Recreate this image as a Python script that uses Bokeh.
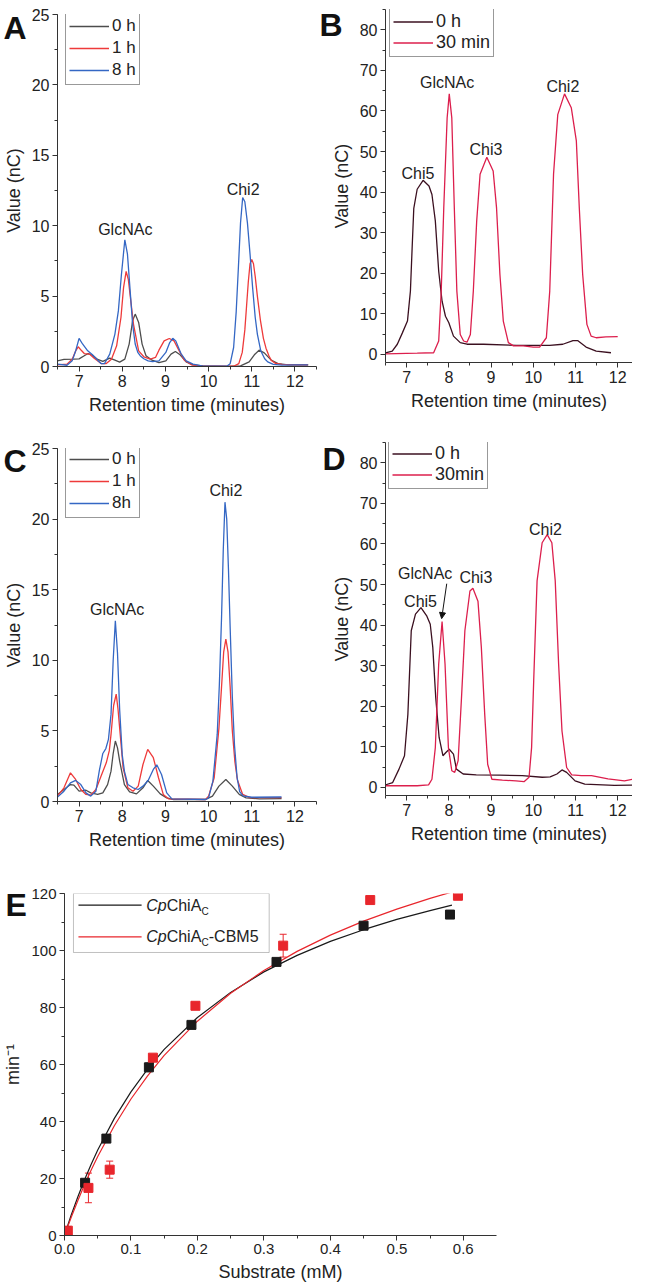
from bokeh.plotting import figure
from bokeh.layouts import column, row
from bokeh.models import (Range1d, SingleIntervalTicker, Legend, LegendItem, Label, Arrow,
                          NormalHead, Whisker, ColumnDataSource, TeeHead, BoxAnnotation,
                          NumeralTickFormatter)
from bokeh.core.properties import value
from bokeh.embed import file_html
from bokeh.resources import INLINE

FONT = "Liberation Sans"

# ---------------- Panel A data ----------------
a_t_0h = [6.5, 6.65, 6.88, 7.0, 7.12, 7.21, 7.31, 7.43, 7.55, 7.71, 7.83, 7.94, 8.06, 8.16, 8.24, 8.3, 8.38,
          8.46, 8.55, 8.69, 8.85, 9.01, 9.13, 9.23, 9.34, 9.48, 9.64, 9.87, 10.43, 10.74, 10.94, 11.06, 11.17,
          11.29, 11.45, 11.61, 11.84, 12.31]
a_v_0h = [0.40, 0.50, 0.52, 0.54, 0.76, 0.92, 0.80, 0.50, 0.36, 0.60, 0.45, 0.31, 0.52, 1.59, 3.25, 3.72, 3.13,
          1.59, 0.76, 0.45, 0.28, 0.40, 0.88, 1.07, 0.83, 0.33, 0.12, 0.05, 0.0, 0.05, 0.33, 0.83, 1.16,
          0.97, 0.45, 0.21, 0.12, 0.12]
a_t_1h = [6.5, 6.72, 6.84, 6.92, 6.98, 7.05, 7.12, 7.24, 7.35, 7.51, 7.63, 7.75, 7.87, 7.97, 8.03, 8.09, 8.14,
          8.18, 8.26, 8.38, 8.5, 8.65, 8.77, 8.85, 8.97, 9.09, 9.2, 9.32, 9.44, 9.6, 9.87, 10.58, 10.7, 10.78,
          10.84, 10.88, 10.92, 10.96, 11.0, 11.04, 11.08, 11.13, 11.2, 11.27, 11.33, 11.4, 11.45, 11.55, 11.7,
          12.0, 12.3]
a_v_1h = [0.12, 0.17, 0.52, 1.1, 1.4, 1.15, 0.92, 0.88, 0.59, 0.21, 0.21, 0.52, 1.47, 3.48, 5.6, 6.75, 6.2,
          5.14, 3.01, 1.11, 0.69, 0.52, 0.64, 1.16, 1.82, 1.99, 1.82, 1.11, 0.45, 0.12, 0.02, 0.02, 0.2, 1.0,
          2.6, 4.3, 6.0, 7.3, 7.6, 7.3, 6.4, 5.0, 3.3, 2.0, 1.3, 0.75, 0.45, 0.22, 0.15,
          0.12, 0.12]
a_t_8h = [6.5, 6.72, 6.84, 6.92, 7.0, 7.08, 7.2, 7.31, 7.43, 7.51, 7.59, 7.71, 7.83, 7.91, 7.98, 8.06, 8.12,
          8.18, 8.24, 8.3, 8.36, 8.42, 8.5, 8.6, 8.7, 8.85, 9.01, 9.1, 9.17, 9.24, 9.36, 9.48, 9.64, 9.87,
          10.43, 10.5, 10.58, 10.64, 10.69, 10.74, 10.79, 10.84, 10.9, 10.96, 11.02, 11.08, 11.13, 11.21, 11.3,
          11.37, 11.5, 11.7, 12.0, 12.3]
a_v_8h = [0.17, 0.09, 0.4, 1.1, 2.0, 1.6, 1.11, 0.83, 0.45, 0.21, 0.21, 0.88, 2.3, 3.95, 6.5, 9.0, 8.0,
          5.5, 3.0, 1.6, 1.0, 0.75, 0.55, 0.4, 0.35, 0.4, 1.0, 1.7, 2.0, 1.82, 0.92, 0.4, 0.17, 0.02,
          0.03, 0.2, 1.35, 3.9, 7.0, 10.2, 12.0, 11.7, 10.2, 8.0, 5.6, 3.5, 2.3, 1.1, 0.55,
          0.33, 0.15, 0.1, 0.12, 0.12]
a_peak_text = ["GlcNAc", "Chi2"]
a_peak_x = [8.07, 10.8]
a_peak_y = [9.75, 12.6]

# ---------------- Panel B data ----------------
b_t_0h = [6.5, 6.66, 6.78, 6.9, 7.02, 7.09, 7.13, 7.17, 7.25, 7.39, 7.53, 7.6, 7.68, 7.76, 7.84, 7.92, 8.0,
          8.11, 8.27, 8.43, 8.82, 9.6, 10.39, 10.7, 10.94, 11.05, 11.25, 11.49, 11.84]
b_v_0h = [0.4, 0.8, 2.5, 5.3, 8.2, 15.6, 26.0, 36.0, 40.7, 42.9, 41.5, 39.4, 32.9, 20.5, 13.1, 9.4, 7.8,
          4.5, 2.9, 2.5, 2.5, 2.2, 2.2, 2.5, 3.4, 3.4, 1.8, 0.8, 0.4]
b_t_30 = [6.5, 7.25, 7.64, 7.76, 7.82, 7.88, 7.96, 8.01, 8.07, 8.13, 8.19, 8.27, 8.35, 8.43, 8.51, 8.58, 8.66,
          8.74, 8.9, 9.05, 9.13, 9.21, 9.29, 9.41, 9.53, 9.76, 10.0, 10.15, 10.31, 10.39, 10.48, 10.58, 10.74,
          10.9, 11.02, 11.09, 11.17, 11.27, 11.37, 11.49, 11.72, 12.0]
b_v_30 = [0.15, 0.3, 0.4, 3.3, 15.6, 36.1, 58.3, 64.2, 58.3, 36.0, 15.6, 4.9, 3.3, 3.0, 4.9, 15.6, 32.9,
          44.4, 48.6, 45.2, 36.1, 19.7, 8.2, 2.9, 2.1, 2.1, 1.8, 1.8, 4.1, 15.6, 44.4, 59.1, 64.2,
          60.8, 52.6, 36.1, 19.7, 7.4, 4.5, 4.1, 4.3, 4.4]
b_peak_text = ["GlcNAc", "Chi5", "Chi3", "Chi2"]
b_peak_x = [7.96, 7.27, 8.88, 10.7]
b_peak_y = [66.9, 44.6, 50.5, 66.1]

# ---------------- Panel C data ----------------
c_t_0h = [6.5, 6.65, 6.8, 6.88, 7.0, 7.16, 7.27, 7.43, 7.55, 7.66, 7.74, 7.79, 7.84, 7.89, 7.94, 8.05, 8.17,
          8.33, 8.48, 8.59, 8.72, 8.88, 9.03, 9.19, 9.93, 10.09, 10.24, 10.4, 10.55, 10.71, 10.87, 11.18, 11.69]
c_v_0h = [0.5, 0.85, 1.2, 1.16, 0.73, 0.8, 0.61, 0.5, 0.61, 1.2, 2.15, 3.4, 4.28, 3.8, 2.86, 1.2, 0.69,
          0.54, 0.97, 1.49, 1.09, 0.54, 0.26, 0.14, 0.14, 0.38, 1.09, 1.56, 1.09, 0.5, 0.26, 0.19, 0.21]
c_t_1h = [6.5, 6.65, 6.8, 6.92, 7.04, 7.16, 7.27, 7.39, 7.51, 7.63, 7.7, 7.74, 7.8, 7.86, 7.9, 7.94, 8.02,
          8.13, 8.25, 8.37, 8.48, 8.59, 8.72, 8.84, 8.95, 9.07, 9.93, 10.0, 10.13, 10.24, 10.3, 10.35, 10.4,
          10.45, 10.5, 10.55, 10.61, 10.67, 10.79, 10.95, 11.69]
c_v_1h = [0.38, 0.97, 2.03, 1.56, 0.85, 0.5, 0.45, 0.85, 1.8, 2.74, 3.6, 4.75, 6.8, 7.6, 6.6, 5.2, 2.38,
          0.97, 0.73, 1.09, 2.62, 3.69, 3.1, 1.68, 0.5, 0.19, 0.14, 0.38, 1.68, 5.2, 8.1, 10.6, 11.5,
          10.6, 8.1, 5.0, 2.8, 1.5, 0.5, 0.28, 0.28]
c_t_8h = [6.5, 6.65, 6.8, 6.92, 7.04, 7.16, 7.27, 7.39, 7.47, 7.55, 7.62, 7.68, 7.74, 7.79, 7.84, 7.89, 7.94,
          8.0, 8.05, 8.13, 8.25, 8.37, 8.48, 8.6, 8.72, 8.8, 8.91, 9.03, 9.15, 9.93, 10.0, 10.1, 10.2, 10.25,
          10.3, 10.34, 10.38, 10.42, 10.46, 10.5, 10.55, 10.6, 10.66, 10.72, 10.8, 11.0, 11.69]
c_v_8h = [0.31, 0.73, 1.32, 1.49, 1.2, 0.61, 0.38, 0.73, 2.2, 3.4, 3.75, 4.4, 6.17, 10.0, 12.8, 10.5, 6.5,
          3.3, 2.15, 1.2, 0.97, 0.85, 1.09, 1.49, 2.27, 2.6, 1.91, 0.61, 0.19, 0.14, 0.26, 1.44, 4.75, 8.3,
          13.0, 17.8, 21.2, 20.0, 16.5, 12.3, 7.4, 4.0, 1.7, 0.7, 0.4, 0.3, 0.32]
c_peak_text = ["GlcNAc", "Chi2"]
c_peak_x = [7.88, 10.4]
c_peak_y = [13.6, 22.0]

# ---------------- Panel D data ----------------
d_t_0h = [6.51, 6.67, 6.82, 6.95, 7.03, 7.11, 7.21, 7.34, 7.48, 7.56, 7.62, 7.69, 7.77, 7.86, 7.93, 8.01, 8.11,
          8.18, 8.34, 8.65, 9.2, 9.74, 10.21, 10.4, 10.56, 10.68, 10.79, 10.99, 11.22, 11.92, 12.45]
d_v_0h = [0.65, 1.2, 4.5, 7.8, 18.0, 38.6, 42.7, 44.3, 42.2, 40.2, 34.5, 22.1, 12.3, 7.8, 8.6, 9.4, 8.2,
          4.5, 3.3, 3.1, 3.0, 2.9, 2.5, 2.6, 3.3, 4.3, 3.7, 1.6, 0.8, 0.5, 0.6]
d_t_30 = [6.51, 7.25, 7.52, 7.6, 7.68, 7.76, 7.84, 7.91, 7.99, 8.07, 8.14, 8.22, 8.3, 8.38, 8.5, 8.57, 8.69,
          8.77, 8.85, 8.92, 9.02, 9.27, 9.59, 9.78, 9.9, 9.96, 10.01, 10.09, 10.21, 10.33, 10.44, 10.52, 10.6,
          10.68, 10.79, 10.91, 11.14, 11.38, 11.77, 12.16, 12.45]
d_v_30 = [0.4, 0.4, 0.6, 2.0, 9.8, 30.4, 40.9, 30.4, 9.8, 4.1, 3.7, 6.6, 22.1, 38.6, 48.4, 49.1, 45.9,
          34.5, 18.0, 5.7, 2.0, 1.8, 1.6, 1.4, 2.5, 9.8, 26.3, 50.9, 60.3, 62.3, 60.3, 50.9, 30.4,
          13.9, 4.9, 3.1, 2.9, 2.9, 2.1, 1.6, 2.2]
d_peak_text = ["GlcNAc", "Chi5", "Chi3", "Chi2"]
d_peak_x = [7.44, 7.33, 8.64, 10.29]
d_peak_y = [52.7, 45.8, 51.7, 63.6]
d_arrow_from = (7.95, 50.2)
d_arrow_to = (7.83, 41.6)

# ---------------- Panel E data ----------------
e_black_x = [0.003, 0.031, 0.063, 0.127, 0.191, 0.319, 0.450, 0.580]
e_black_y = [1.5, 18.5, 34.0, 59.0, 73.9, 96.0, 108.7, 112.6]
e_black_err = [0, 0, 0, 1.5, 0, 0, 0, 0]
e_red_x = [0.005, 0.036, 0.068, 0.133, 0.197, 0.329, 0.460, 0.592]
e_red_y = [1.7, 16.7, 23.1, 62.4, 80.6, 101.7, 117.7, 119.2]
e_red_err = [0, 5.2, 3.0, 0, 0, 4.0, 0, 0]
e_fit_black_s = [0, 0.005, 0.01, 0.02, 0.03, 0.04, 0.05, 0.075, 0.1, 0.125, 0.15, 0.2, 0.25, 0.3, 0.35, 0.4,
                 0.45, 0.5, 0.55, 0.583]
e_fit_black_v = [0, 3.6, 7.1, 13.5, 19.5, 24.9, 30.0, 41.1, 50.4, 58.4, 65.3, 76.5, 85.3, 92.5, 98.3, 103.2,
                 107.3, 110.9, 114.0, 115.9]
e_fit_red_s = [0, 0.005, 0.01, 0.02, 0.03, 0.04, 0.05, 0.075, 0.1, 0.125, 0.15, 0.2, 0.25, 0.3, 0.35, 0.4,
               0.45, 0.5, 0.55, 0.587]
e_fit_red_v = [0, 3.2, 6.3, 12.2, 17.8, 22.9, 27.7, 38.5, 47.9, 56.0, 63.2, 75.2, 85.0, 93.0, 99.7, 105.4,
               110.3, 114.5, 118.3, 120.8]

GRAY = "#4d4d4d"
RED = "#ee3a3a"
BLUE = "#3467c4"
DARK = "#3b1020"
CRIMSON = "#dc1f4d"
INK = "#222222"


def make_fig(xr, yr, fw, fh, bl, br, bb, xint, yint, xlabel, ylabel, shift):
    p = figure(x_range=Range1d(*xr), y_range=Range1d(*yr), frame_width=fw, frame_height=fh,
               min_border_left=bl, min_border_right=br, min_border_top=0, min_border_bottom=bb,
               output_backend="svg", toolbar_location=None, border_fill_color=None,
               margin=(shift, 0, 0, 0))
    p.outline_line_color = None
    p.xgrid.visible = False
    p.ygrid.visible = False
    p.xaxis.ticker = SingleIntervalTicker(interval=xint, num_minor_ticks=2)
    p.yaxis.ticker = SingleIntervalTicker(interval=yint, num_minor_ticks=2)
    for ax in (p.xaxis[0], p.yaxis[0]):
        ax.axis_line_color = "#333333"
        ax.major_tick_line_color = "#333333"
        ax.minor_tick_line_color = "#333333"
        ax.major_tick_in = 0
        ax.major_tick_out = 5
        ax.minor_tick_in = 0
        ax.minor_tick_out = 3
        ax.major_label_text_font = FONT
        ax.major_label_text_font_size = "16px"
        ax.major_label_text_color = INK
        ax.major_label_standoff = 3
        ax.axis_label_text_font = FONT
        ax.axis_label_text_font_size = "18px"
        ax.axis_label_text_font_style = "normal"
        ax.axis_label_text_color = INK
        ax.axis_label_standoff = 5
    p.xaxis.axis_label = xlabel
    p.yaxis.axis_label = ylabel
    return p


def add_letter(p, letter, dx, dy):
    # panel letter drawn from the 'above' side panel (side panels are not clipped to the frame)
    p.add_layout(Label(text=letter, x=-dx, y=dy, x_units="screen", y_units="screen",
                       text_font=FONT, text_font_size="32px", text_font_style="bold",
                       text_color="#111111", text_baseline="top", text_align="left"), "above")


def add_legend(p, renderers, labels, loc, gh, font="17px"):
    items = [LegendItem(label=l, renderers=[r]) for l, r in zip(labels, renderers)]
    lg = Legend(items=items, location=loc, border_line_color="#333333", border_line_width=1,
                padding=3, spacing=0, margin=0, glyph_width=40, glyph_height=gh, label_height=gh,
                label_standoff=3, label_text_font=FONT, label_text_font_size=font,
                label_text_color=INK, background_fill_alpha=1.0)
    p.add_layout(lg)


def add_peaks(p, xs, ys, texts):
    p.text(x=xs, y=ys, text=texts, text_font=value(FONT), text_font_size="16px",
           text_align="center", text_baseline="middle", text_color=INK)


XLAB = "Retention time (minutes)"
YLAB = "Value (nC)"

# Row 1
pA = make_fig((6.5, 12.5), (0, 25), 259, 352, 54, 1, 67, 1, 5, XLAB, YLAB, -22)
rA0 = pA.line(a_t_0h, a_v_0h, line_color=GRAY, line_width=1.3)
rA1 = pA.line(a_t_1h, a_v_1h, line_color=RED, line_width=1.3)
rA8 = pA.line(a_t_8h, a_v_8h, line_color=BLUE, line_width=1.3)
add_peaks(pA, a_peak_x, a_peak_y, a_peak_text)
add_legend(pA, [rA0, rA1, rA8], ["0 h", "1 h", "8 h"], (8, 281), 22)
add_letter(pA, "A", 54, 5)

pB = make_fig((6.5, 12.35), (-2, 85), 247, 353, 68, 0, 66, 1, 10, XLAB, YLAB, -27)
rB0 = pB.line(b_t_0h, b_v_0h, line_color=DARK, line_width=1.3)
rB1 = pB.line(b_t_30, b_v_30, line_color=CRIMSON, line_width=1.3)
add_peaks(pB, b_peak_x, b_peak_y, b_peak_text)
add_legend(pB, [rB0, rB1], ["0 h", "30 min"], (4, 305), 21, "18px")
add_letter(pB, "B", 66, 3)

# Row 2
pC = make_fig((6.5, 12.5), (0, 25), 259, 353, 54, 1, 73, 1, 5, XLAB, YLAB, -21)
rC0 = pC.line(c_t_0h, c_v_0h, line_color=GRAY, line_width=1.3)
rC1 = pC.line(c_t_1h, c_v_1h, line_color=RED, line_width=1.3)
rC8 = pC.line(c_t_8h, c_v_8h, line_color=BLUE, line_width=1.3)
add_peaks(pC, c_peak_x, c_peak_y, c_peak_text)
add_legend(pC, [rC0, rC1, rC8], ["0 h", "1 h", "8h"], (8, 283), 22)
add_letter(pC, "C", 54, 6)

pD = make_fig((6.5, 12.35), (-2, 85), 247, 353, 68, 0, 73, 1, 10, XLAB, YLAB, -27)
rD0 = pD.line(d_t_0h, d_v_0h, line_color=DARK, line_width=1.3)
rD1 = pD.line(d_t_30, d_v_30, line_color=CRIMSON, line_width=1.3)
add_peaks(pD, d_peak_x, d_peak_y, d_peak_text)
pD.add_layout(Arrow(x_start=d_arrow_from[0], y_start=d_arrow_from[1], x_end=d_arrow_to[0], y_end=d_arrow_to[1],
                    line_color="#111111", line_width=1,
                    end=NormalHead(size=6, fill_color="#111111", line_color="#111111")))
add_legend(pD, [rD0, rD1], ["0 h", "30min"], (3, 306), 21, "18px")
add_letter(pD, "D", 63, 2)

# Row 3
pE = make_fig((0, 0.65), (0, 120), 432, 342, 59, 10, 52, 0.1, 20, "Substrate (mM)", "min\u207b\u00b9", -17)
pE.xaxis.formatter = NumeralTickFormatter(format="0.0")
for ax in (pE.xaxis[0], pE.yaxis[0]):
    ax.major_label_text_font_size = "15px"
pE.line(e_fit_black_s, e_fit_black_v, line_color="#1a1a1a", line_width=1.2)
pE.line(e_fit_red_s, e_fit_red_v, line_color="#e8262c", line_width=1.2)
for xs, ys, errs, col in ((e_black_x, e_black_y, e_black_err, "#1a1a1a"),
                          (e_red_x, e_red_y, e_red_err, "#e8262c")):
    ex = [x for x, e in zip(xs, errs) if e > 0]
    eu = [y + e for y, e in zip(ys, errs) if e > 0]
    el = [y - e for y, e in zip(ys, errs) if e > 0]
    src = ColumnDataSource(dict(x=ex, upper=eu, lower=el))
    pE.add_layout(Whisker(source=src, base="x", upper="upper", lower="lower", line_color=col, line_width=1,
                          upper_head=TeeHead(size=7, line_color=col, line_width=1),
                          lower_head=TeeHead(size=7, line_color=col, line_width=1)))
    pE.scatter(xs, ys, marker="square", size=9, fill_color=col, line_color=col)

# E legend (manual, for italic / subscript label pieces)
e_leg_box = dict(left=0.0135, right=0.308, top=120.0, bottom=99.3)
pE.add_layout(BoxAnnotation(fill_color="white", fill_alpha=1.0, line_color="#333333", line_width=1,
                            level="underlay", **e_leg_box))
e_leg_rows = [115.9, 104.8]
e_leg_cols = ["#1a1a1a", "#e8262c"]
e_leg_suffix = ["", "-CBM5"]
for yy, col, suf in zip(e_leg_rows, e_leg_cols, e_leg_suffix):
    pE.line([0.021, 0.116], [yy, yy], line_color=col, line_width=1.2)
    tx = 0.123
    pE.text(x=[tx], y=[yy], text=["Cp"], text_font=value(FONT), text_font_size="16px",
            text_font_style="italic", text_baseline="middle", text_color=INK)
    pE.text(x=[tx], y=[yy], x_offset=20.4, text=["ChiA"], text_font=value(FONT), text_font_size="16px",
            text_baseline="middle", text_color=INK)
    pE.text(x=[tx], y=[yy], x_offset=55.2, y_offset=6, text=["C"], text_font=value(FONT),
            text_font_size="10px", text_baseline="middle", text_color=INK)
    if suf:
        pE.text(x=[tx], y=[yy], x_offset=62.5, text=[suf], text_font=value(FONT), text_font_size="16px",
                text_baseline="middle", text_color=INK)
add_letter(pE, "E", 59, 7)

layout = column(row(pA, pB), row(pC, pD), pE)
open("out.html", "w").write(file_html(layout, INLINE))
